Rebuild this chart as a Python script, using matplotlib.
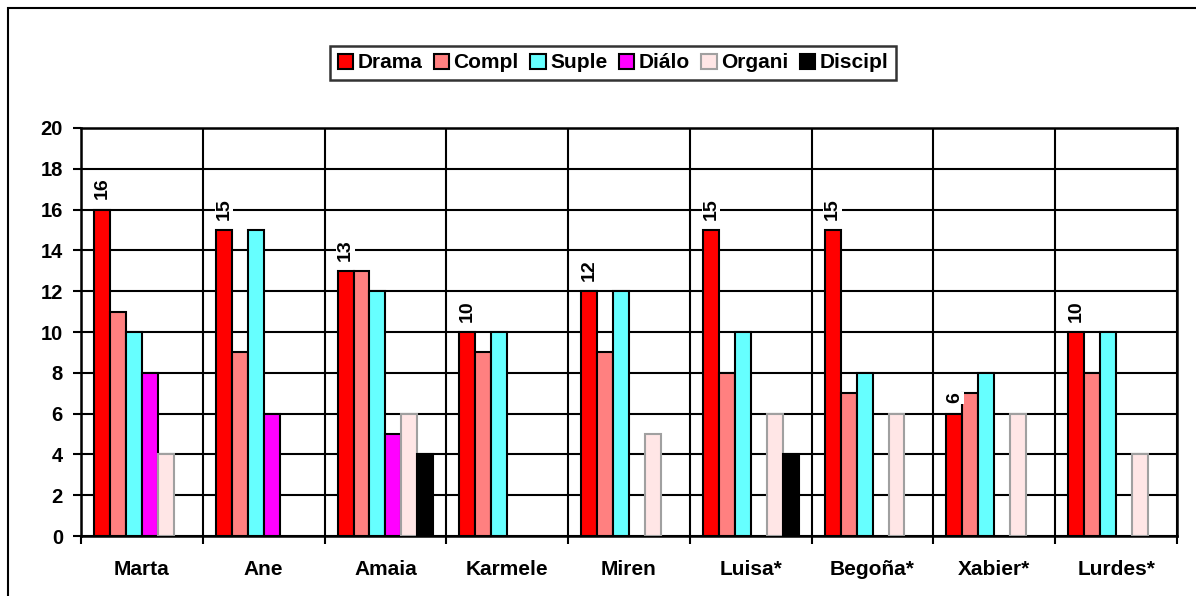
import matplotlib
matplotlib.use("Agg")
import matplotlib.pyplot as plt
import numpy as np
from matplotlib.patches import Rectangle

plt.rcParams['font.family'] = ['Liberation Sans', 'DejaVu Sans']
plt.rcParams['font.weight'] = 'bold'

categories = ["Marta", "Ane", "Amaia", "Karmele", "Miren", "Luisa*", "Begoña*", "Xabier*", "Lurdes*"]
series_names = ["Drama", "Compl", "Suple", "Diálo", "Organi", "Discipl"]
drama = [16, 15, 13, 10, 12, 15, 15, 6, 10]
compl = [11, 9, 13, 9, 9, 8, 7, 7, 8]
suple = [10, 15, 12, 10, 12, 10, 8, 8, 10]
dialo = [8, 6, 5, 0, 0, 0, 0, 0, 0]
organi = [4, 0, 6, 0, 5, 6, 6, 6, 4]
discipl = [0, 0, 4, 0, 0, 4, 0, 0, 0]
yticks = [0, 2, 4, 6, 8, 10, 12, 14, 16, 18, 20]

series = [drama, compl, suple, dialo, organi, discipl]
faces = ["#FF0000", "#FF8080", "#66FFFF", "#FF00FF", "#FFE6E6", "#000000"]
edges = ["#000000", "#000000", "#000000", "#000000", "#A0A0A0", "#000000"]

fig = plt.figure(figsize=(11.96, 5.96), dpi=100)
W, H = 1196, 596
ax = fig.add_axes([81 / W, 1 - 536 / H, (1177 - 81) / W, (536 - 128) / H])

# outer chart frame
fig.patches.append(Rectangle((8 / W, -0.05), 1.2, 1 - 8 / H + 0.05, transform=fig.transFigure,
                             fill=False, edgecolor="black", linewidth=1.5, zorder=0))

x = np.arange(len(categories))
bw = 0.131
n = len(series)
for i, (vals, fc, ec, name) in enumerate(zip(series, faces, edges, series_names)):
    offs = (i - (n - 1) / 2) * bw
    v = np.array(vals, dtype=float)
    mask = v > 0
    # legend proxy (always present)
    ax.bar([np.nan], [np.nan], bw, color=fc, edgecolor=ec, linewidth=1.5, label=name)
    ax.bar((x + offs)[mask], v[mask], bw, color=fc, edgecolor=ec, linewidth=1.5, zorder=3)
    if name == "Drama":
        for xi, val in zip((x + offs)[mask], v[mask]):
            ax.text(xi, val + 0.5, f"{int(val)}", rotation=90, ha="center", va="bottom",
                    fontsize=14, fontweight="bold", zorder=4,
                    bbox=dict(facecolor="white", edgecolor="none", pad=0.5))

ax.set_xlim(-0.5, len(categories) - 0.5)
ax.set_ylim(0, 20)
ax.set_yticks(yticks)
ax.set_yticklabels([str(t) for t in yticks], fontsize=14.5, fontweight="bold")
ax.set_xticks(x)
ax.set_xticklabels(categories, fontsize=15, fontweight="bold")
ax.tick_params(axis="x", which="major", length=0, pad=17)
ax.set_xticks(np.arange(len(categories) + 1) - 0.5, minor=True)
ax.tick_params(axis="x", which="minor", length=6, width=1.5, direction="out")
ax.tick_params(axis="y", length=6, width=1.5, direction="out", pad=7)
ax.grid(True, axis="y", which="major", color="black", linewidth=1.5, zorder=1)
ax.grid(True, axis="x", which="minor", color="black", linewidth=1.5, zorder=1)
ax.set_axisbelow(True)
for s in ax.spines.values():
    s.set_linewidth(1.8)
    s.set_color("black")

leg = fig.legend(loc="center", bbox_to_anchor=(613 / W, 1 - 63 / H), ncol=6,
                 frameon=True, fancybox=False, edgecolor="black", handlelength=0.75,
                 handleheight=0.75, handletextpad=0.2, columnspacing=0.55, borderpad=0.35,
                 prop={"weight": "bold", "size": 15})
leg.get_frame().set_linewidth(1.8)

fig.savefig("out.png", dpi=100)
